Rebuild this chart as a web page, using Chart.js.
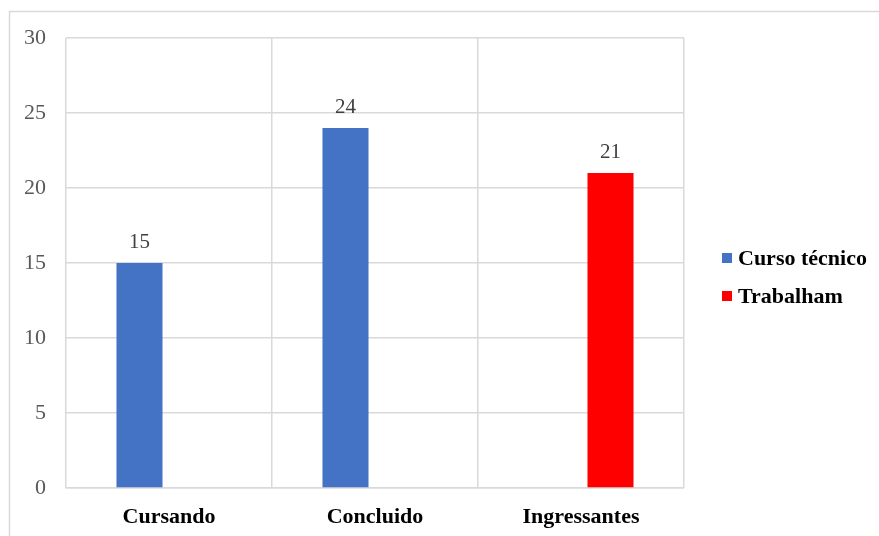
<!DOCTYPE html>
<html>
<head>
<meta charset="utf-8">
<script src="https://cdn.jsdelivr.net/npm/chart.js@4.4.0/dist/chart.umd.min.js"></script>
<style>
  html, body { margin: 0; padding: 0; background: #fff; }
  #wrap { width: 879px; height: 536px; position: relative; }
</style>
</head>
<body>
<div id="wrap"><canvas id="chart" width="879" height="536"></canvas></div>
<script>
// Chart data
const categories = ['Cursando', 'Concluido', 'Ingressantes'];
const cursoTecnico = [15, 24, null];
const trabalham = [null, null, 21];
const yTicks = [0, 5, 10, 15, 20, 25, 30];

const blue = '#4472C4';
const red = '#FF0000';
const gridColor = '#d9d9d9';
const serif = '"Liberation Serif", "Times New Roman", serif';

// outer frame like the original picture
const framePlugin = {
    id: 'frame',
    beforeDraw(chart) {
        const ctx = chart.ctx;
        ctx.save();
        ctx.fillStyle = '#fff';
        ctx.fillRect(0, 0, chart.width, chart.height);
        ctx.strokeStyle = gridColor;
        ctx.lineWidth = 1.5;
        ctx.strokeRect(9.5, 11.5, chart.width + 20, chart.height + 20);
        ctx.restore();
    }
};

// value labels above the bars
const valueLabels = {
    id: 'valueLabels',
    afterDatasetsDraw(chart) {
        const ctx = chart.ctx;
        ctx.save();
        ctx.font = '21px ' + serif;
        ctx.fillStyle = '#404040';
        ctx.textAlign = 'center';
        ctx.textBaseline = 'alphabetic';
        chart.data.datasets.forEach((ds, i) => {
            chart.getDatasetMeta(i).data.forEach((bar, j) => {
                if (ds.data[j] == null) return;
                ctx.fillText(ds.data[j], bar.x, bar.y - 15);
            });
        });
        ctx.restore();
    }
};

// legend on the right
const sideLegend = {
    id: 'sideLegend',
    afterDraw(chart) {
        const ctx = chart.ctx;
        ctx.save();
        ctx.font = 'bold 22px ' + serif;
        ctx.textBaseline = 'middle';
        ctx.textAlign = 'left';
        let y = 258;
        chart.data.datasets.forEach(ds => {
            ctx.fillStyle = ds.backgroundColor;
            ctx.fillRect(722, y - 5, 10, 10);
            ctx.fillStyle = '#000';
            ctx.fillText(ds.label, 738, y + 1);
            y += 38;
        });
        ctx.restore();
    }
};

new Chart(document.getElementById('chart'), {
    type: 'bar',
    data: {
        labels: categories,
        datasets: [
            {
                label: 'Curso técnico',
                data: cursoTecnico,
                backgroundColor: blue,
                categoryPercentage: 0.573,
                barPercentage: 0.78,
                skipNull: false
            },
            {
                label: 'Trabalham',
                data: trabalham,
                backgroundColor: red,
                categoryPercentage: 0.573,
                barPercentage: 0.78,
                skipNull: false
            }
        ]
    },
    options: {
        responsive: false,
        animation: false,
        events: [],
        layout: { padding: { top: 38, right: 195, bottom: 0, left: 0 } },
        plugins: {
            legend: { display: false },
            tooltip: { enabled: false }
        },
        scales: {
            x: {
                grid: { color: gridColor, lineWidth: 1.5, drawTicks: false, offset: true },
                border: { color: gridColor, width: 1.5 },
                ticks: {
                    padding: 16,
                    color: '#000',
                    font: { family: serif, size: 22, weight: 'bold' }
                },
                afterFit(scale) { scale.height = 48; }
            },
            y: {
                min: 0,
                max: 30,
                grid: { color: gridColor, lineWidth: 1.5, drawTicks: false },
                border: { display: false },
                afterBuildTicks(scale) { scale.ticks = yTicks.map(v => ({ value: v })); },
                ticks: {
                    padding: 20,
                    color: '#595959',
                    font: { family: serif, size: 22 }
                },
                afterFit(scale) { scale.width = 66; }
            }
        }
    },
    plugins: [framePlugin, valueLabels, sideLegend]
});
</script>
</body>
</html>
